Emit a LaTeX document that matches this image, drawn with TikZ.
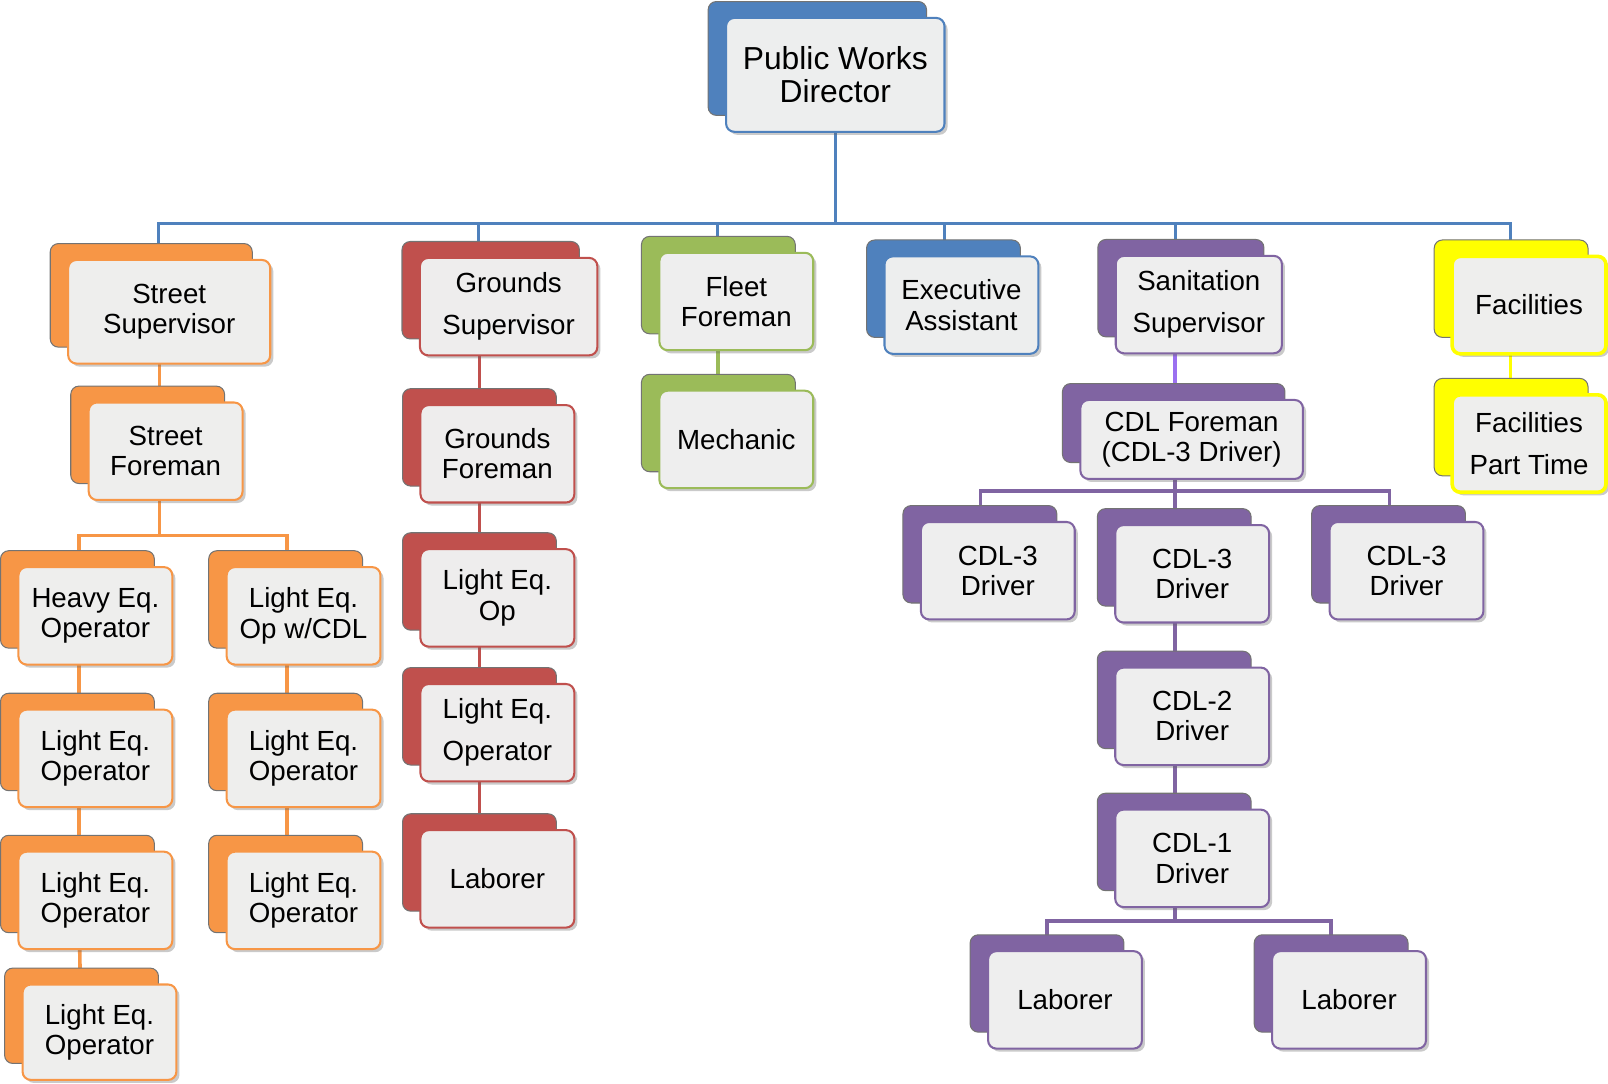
\documentclass[tikz,border=0pt]{standalone}
\usepackage{fontspec}
\setmainfont{Liberation Sans}
\usepackage{xcolor}
\usepackage{tikz}
\usetikzlibrary{positioning, shadows, backgrounds}
\definecolor{orgblue}{RGB}{79, 129, 189}
\definecolor{orgorange}{RGB}{247, 150, 70}
\definecolor{orgred}{RGB}{192, 80, 77}
\definecolor{orggreen}{RGB}{155, 187, 89}
\definecolor{orgpurple}{RGB}{128, 100, 162}
\definecolor{orgviolet}{RGB}{155, 112, 240}
\definecolor{orgyellow}{RGB}{255, 255, 0}

\begin{document}
\begin{tikzpicture}[x=1pt, y=-1pt,
    card/.style={rectangle, rounded corners=8pt, draw=#1, line width=2pt, fill=#1!6!black!7!white,
        minimum width=150pt, minimum height=95pt, inner sep=2pt, align=center,
        font=\fontsize{27}{29.5}\selectfont,
        copy shadow={shadow xshift=-17.5pt, shadow yshift=16pt, fill=#1, draw=black!55, line width=1pt},
        drop shadow={shadow xshift=3pt, shadow yshift=-3pt, opacity=0.35, fill=black!60}},
    wide/.style={font=\fontsize{27}{41}\selectfont},
    link/.style={line width=3.5pt, draw=#1}
]
    \useasboundingbox (0,0) rectangle (1568,1057);

    % Top
    \node[card=orgblue, minimum width=213pt, minimum height=111pt, font=\fontsize{31}{32}\selectfont] (dir) at (814.5,73) {Public Works\\Director};

    % Streets
    \node[card=orgorange, minimum width=197pt, minimum height=101pt] (ss) at (165,304) {Street\\Supervisor};
    \node[card=orgorange] (sf) at (161.5,440) {Street\\Foreman};
    \node[card=orgorange] (heo) at (93,600.5) {Heavy Eq.\\Operator};
    \node[card=orgorange] (leocdl) at (296,600.5) {Light Eq.\\Op w/CDL};
    \node[card=orgorange] (leo1) at (93,739.5) {Light Eq.\\Operator};
    \node[card=orgorange] (leo2) at (296,739.5) {Light Eq.\\Operator};
    \node[card=orgorange] (leo3) at (93,878) {Light Eq.\\Operator};
    \node[card=orgorange] (leo4) at (296,878) {Light Eq.\\Operator};
    \node[card=orgorange, minimum height=93pt] (leo5) at (97,1006.5) {Light Eq.\\Operator};

    % Grounds
    \node[card=orgred, wide, minimum width=173pt] (gs) at (496,299) {Grounds\\Supervisor};
    \node[card=orgred] (gf) at (485,442.5) {Grounds\\Foreman};
    \node[card=orgred] (gleop) at (485,583) {Light Eq.\\Op};
    \node[card=orgred, wide] (gleo) at (485,714.5) {Light Eq.\\Operator};
    \node[card=orgred] (glab) at (485,857) {Laborer};

    % Fleet
    \node[card=orggreen] (ff) at (718,294) {Fleet\\Foreman};
    \node[card=orggreen] (mech) at (718,428.5) {Mechanic};

    % Office
    \node[card=orgblue] (ea) at (937.5,297.5) {Executive\\Assistant};

    % Sanitation
    \node[card=orgpurple, wide, minimum width=162pt] (san) at (1169,297) {Sanitation\\Supervisor};
    \node[card=orgpurple, minimum width=217pt, minimum height=77pt] (cdlf) at (1162,428.5) {CDL Foreman\\(CDL-3 Driver)};
    \node[card=orgpurple] (cdl3a) at (973,556.5) {CDL-3\\Driver};
    \node[card=orgpurple] (cdl3b) at (1162.5,559.5) {CDL-3\\Driver};
    \node[card=orgpurple] (cdl3c) at (1371.5,556.5) {CDL-3\\Driver};
    \node[card=orgpurple] (cdl2) at (1162.5,698.5) {CDL-2\\Driver};
    \node[card=orgpurple] (cdl1) at (1162.5,837) {CDL-1\\Driver};
    \node[card=orgpurple] (lab1) at (1038.5,975) {Laborer};
    \node[card=orgpurple] (lab2) at (1315.5,975) {Laborer};

    % Facilities
    \node[card=orgyellow, line width=3.5pt] (fac) at (1491,297.5) {Facilities};
    \node[card=orgyellow, line width=3.5pt, wide] (facpt) at (1491,432.5) {Facilities\\Part Time};

    % Connectors
    \begin{scope}[on background layer]
        \draw[link=orgblue, line width=3pt] (dir.center) -- ++(0,144.5) coordinate (hub);
        \draw[link=orgblue, line width=3pt] (hub) -| ([xshift=-10]ss.center);
        \draw[link=orgblue, line width=3pt] (hub) -| ([xshift=-29]gs.center);
        \draw[link=orgblue, line width=3pt] (hub) -| ([xshift=-18]ff.center);
        \draw[link=orgblue, line width=3pt] (hub) -| ([xshift=-16.5]ea.center);
        \draw[link=orgblue, line width=3pt] (hub) -| ([xshift=-23]san.center);
        \draw[link=orgblue, line width=3pt] (hub) -| ([xshift=-18]fac.center);

        \draw[link=orgorange] ([xshift=-9.5]ss.center) -- ([xshift=-6]sf.center);
        \draw[link=orgorange] ([xshift=-6]sf.center) -- ++(0,82) coordinate (obar);
        \draw[link=orgorange] (obar) -| ([xshift=-16]heo.center);
        \draw[link=orgorange] (obar) -| ([xshift=-16]leocdl.center);
        \draw[link=orgorange] ([xshift=-16]heo.center) -- ([xshift=-16]leo1.center) -- ([xshift=-16]leo3.center) -- ([xshift=-18]leo5.center);
        \draw[link=orgorange] ([xshift=-16]leocdl.center) -- ([xshift=-16]leo2.center) -- ([xshift=-16]leo4.center);

        \draw[link=orgred] ([xshift=-28.5]gs.center) -- ([xshift=-17.5]gf.center) -- ([xshift=-17.5]gleop.center) -- ([xshift=-17.5]gleo.center) -- ([xshift=-17.5]glab.center);

        \draw[link=orggreen] ([xshift=-18]ff.center) -- ([xshift=-18]mech.center);

        \draw[link=orgviolet] ([xshift=-23]san.center) -- ([xshift=-16]cdlf.center);
        \draw[link=orgpurple] ([xshift=-16]cdlf.center) -- ++(0,50.5) coordinate (pbar);
        \draw[link=orgpurple] (pbar) -| ([xshift=-17]cdl3a.center);
        \draw[link=orgpurple] (pbar) -| ([xshift=-16.5]cdl3b.center);
        \draw[link=orgpurple] (pbar) -| ([xshift=-16.5]cdl3c.center);
        \draw[link=orgpurple] ([xshift=-16.5]cdl3b.center) -- ([xshift=-16.5]cdl2.center) -- ([xshift=-16.5]cdl1.center) -- ++(0,61) coordinate (lbar);
        \draw[link=orgpurple] (lbar) -| ([xshift=-17.5]lab1.center);
        \draw[link=orgpurple] (lbar) -| ([xshift=-17.5]lab2.center);

        \draw[link=orgyellow] ([xshift=-18]fac.center) -- ([xshift=-18]facpt.center);
    \end{scope}
\end{tikzpicture}
\end{document}
